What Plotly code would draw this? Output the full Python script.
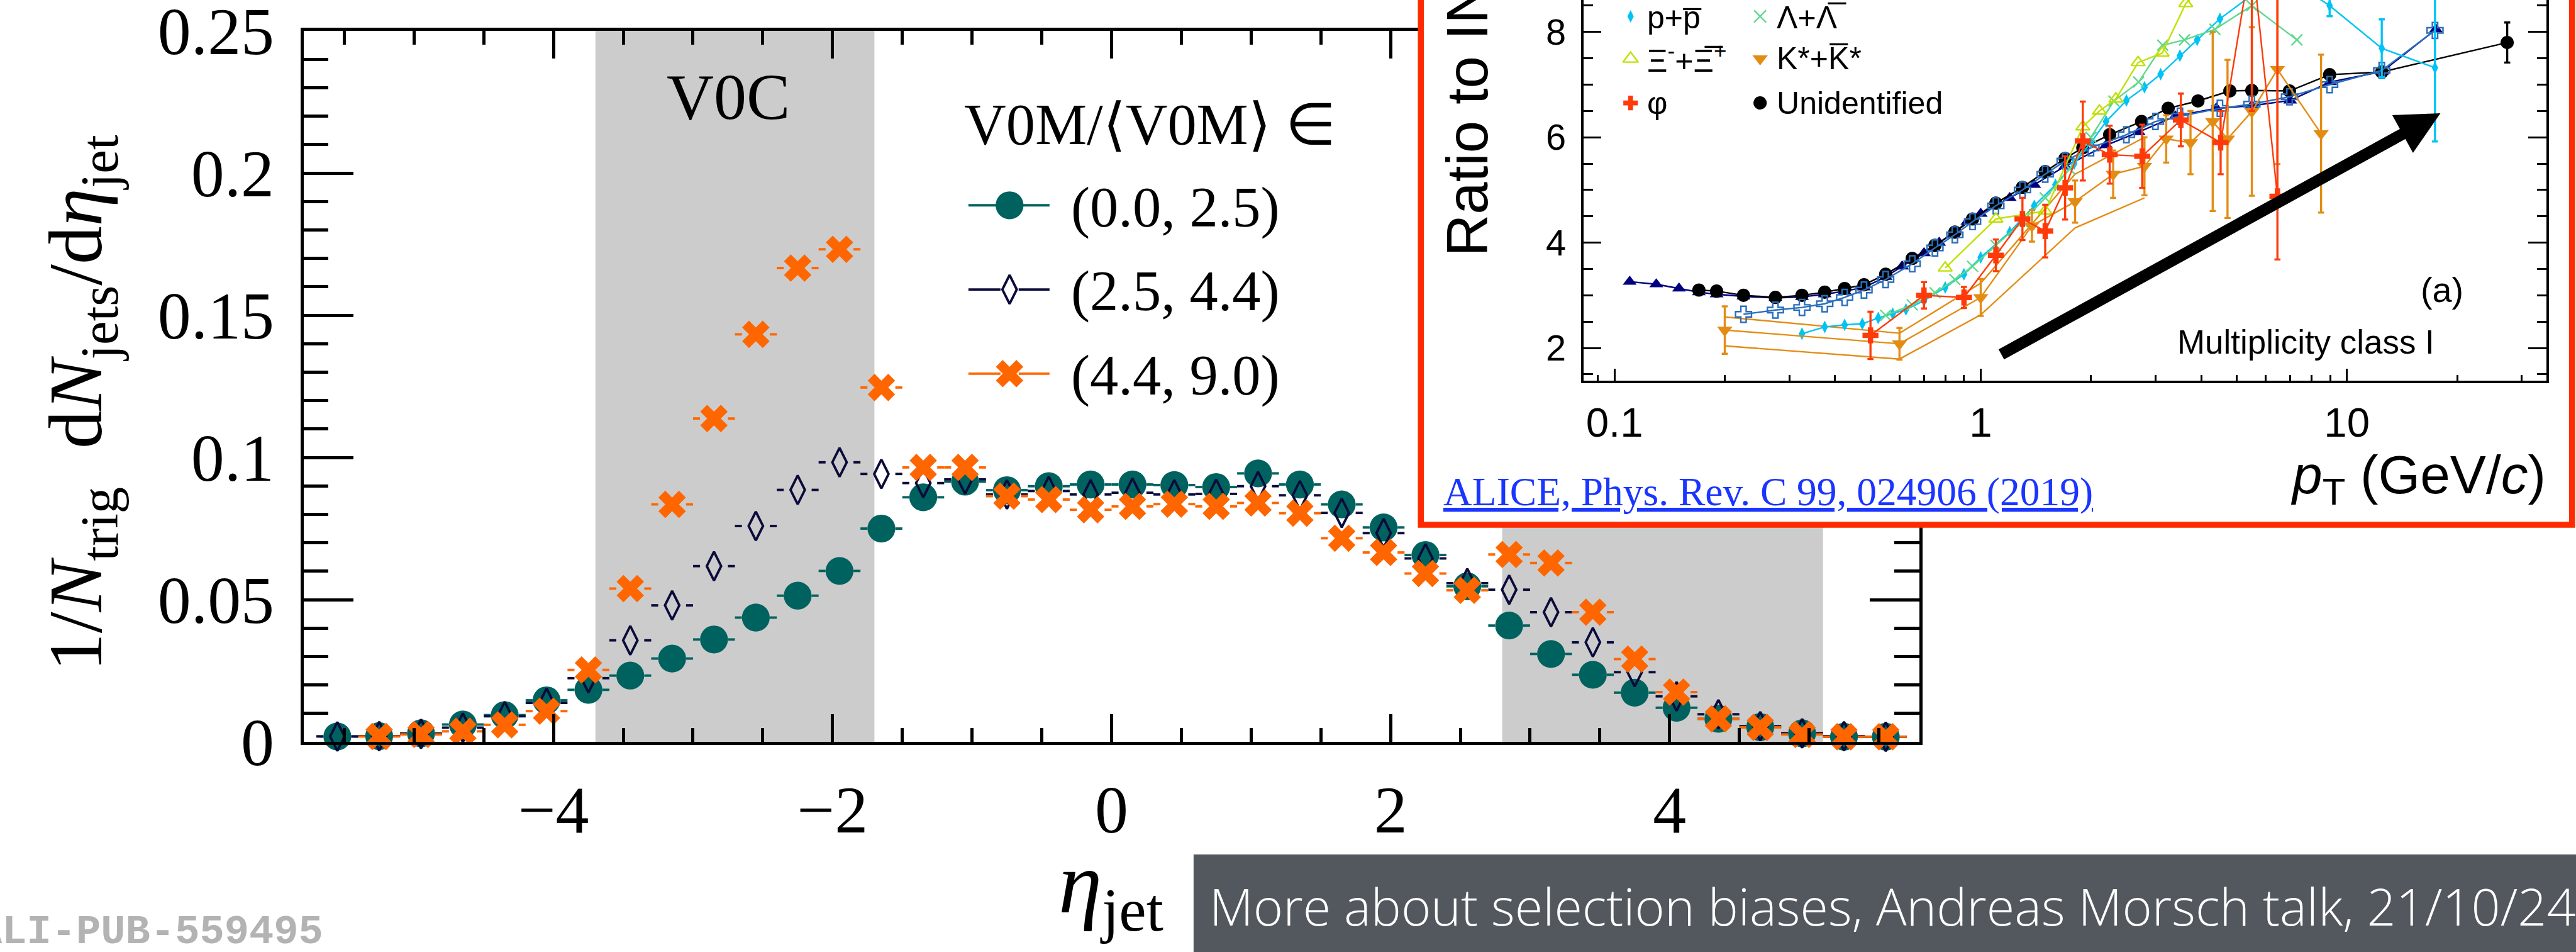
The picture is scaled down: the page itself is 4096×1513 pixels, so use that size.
import plotly.graph_objects as go

# ---------------- canvas / scaling ----------------
W, H = 4096, 1513
RW, RH = 4256, 1572          # reference pixel frame
S = W / RW                   # 0.962


def fs(v):
    return v * S


def px(x):
    return x / RW


def py(y):
    return 1 - y / RH


SERIF = "Liberation Serif"
SANS = "Liberation Sans"

# ---------------- main chart data ----------------
eta = [-5.55, -5.25, -4.95, -4.65, -4.35, -4.05, -3.75, -3.45, -3.15, -2.85,
       -2.55, -2.25, -1.95, -1.65, -1.35, -1.05, -0.75, -0.45, -0.15, 0.15,
       0.45, 0.75, 1.05, 1.35, 1.65, 1.95, 2.25, 2.55, 2.85, 3.15,
       3.45, 3.75, 4.05, 4.35, 4.65, 4.95, 5.25, 5.55]

low_mult = [0.0019, 0.0020, 0.0030, 0.0061, 0.0094, 0.0146, 0.0183, 0.0233, 0.0293, 0.0360,
            0.0437, 0.0514, 0.0601, 0.0750, 0.0860, 0.0915, 0.0885, 0.0899, 0.0905, 0.0905,
            0.0903, 0.0896, 0.0944, 0.0905, 0.0835, 0.0754, 0.0657, 0.0547, 0.0409, 0.0309,
            0.0236, 0.0173, 0.0120, 0.0081, 0.0052, 0.0030, 0.0018, 0.0018]

mid_mult = [0.0019, 0.0020, 0.0028, 0.0050, 0.0090, 0.0137, 0.0224, 0.0357, 0.0480, 0.0618,
            0.0759, 0.0886, 0.0983, 0.0942, 0.0910, 0.0923, 0.0870, 0.0882, 0.0870, 0.0876,
            0.0870, 0.0872, 0.0899, 0.0867, 0.0805, 0.0734, 0.0645, 0.0558, 0.0535, 0.0456,
            0.0350, 0.0245, 0.0160, 0.0097, 0.0055, 0.0030, 0.0020, 0.0018]

high_mult = [None, 0.0019, 0.0026, 0.0037, 0.0060, 0.0108, 0.0253, 0.0539, 0.0835, 0.1137,
             0.1433, 0.1666, 0.1732, 0.1246, 0.0965, 0.0965, 0.0864, 0.0852, 0.0816, 0.0828,
             0.0836, 0.0828, 0.0840, 0.0804, 0.0716, 0.0666, 0.0592, 0.0533, 0.0659, 0.0629,
             0.0456, 0.0291, 0.0175, 0.0081, 0.0051, 0.0026, 0.0018, 0.0018]

bin_half = 0.15
legend_labels = ["(0.0, 2.5)", "(2.5, 4.4)", "(4.4, 9.0)"]
v0c_range = [-3.7, -1.7]
v0a_range = [2.8, 5.1]
main_yticks = [0, 0.05, 0.1, 0.15, 0.2, 0.25]
main_yticktext = ["0", "0.05", "0.1", "0.15", "0.2", "0.25"]

TEAL = "#00625f"
NAVY = "#0b0b3b"
ORANGE = "#ff6600"

# ---------------- inset data (ratio to INEL>0 vs pT) ----------------
pi_pt = [0.11, 0.13, 0.15, 0.17, 0.19, 0.225, 0.275, 0.325, 0.375, 0.425, 0.48, 0.55, 0.61, 0.7,
         0.77, 0.85, 0.92, 1.0, 1.2, 1.4, 1.7, 2.2, 2.7, 3.4, 4.4, 5.5, 7.0, 9.0, 12.5, 17.5]
pi_val = [3.26, 3.21, 3.13, 3.06, 3.02, 2.98, 2.95, 2.97, 3.02, 3.08, 3.15, 3.35, 3.55, 3.8,
          4.0, 4.2, 4.4, 4.55, 4.85, 5.1, 5.45, 5.85, 6.1, 6.4, 6.55, 6.6, 6.7, 7.05, 7.25, 8.05]

unid_pt = [0.17, 0.19, 0.225, 0.275, 0.325, 0.375, 0.425, 0.48, 0.55, 0.65, 0.75, 0.85, 0.95, 1.1,
           1.3, 1.5, 1.7, 1.9, 2.25, 2.75, 3.25, 3.92, 4.79, 5.5, 6.97, 8.97, 12.45, 27.4]
unid_val = [3.1, 3.08, 3.0, 2.96, 3.0, 3.06, 3.13, 3.2, 3.4, 3.7, 3.95, 4.2, 4.45, 4.75,
            5.05, 5.35, 5.6, 5.8, 6.05, 6.3, 6.55, 6.69, 6.88, 6.89, 6.88, 7.19, 7.24, 7.8]
unid_err = [0, 0, 0, 0, 0, 0, 0, 0, 0, 0, 0, 0, 0, 0,
            0, 0, 0, 0, 0, 0, 0, 0, 0, 0, 0, 0, 0.05, 0.38]

k_pt = [0.225, 0.275, 0.325, 0.375, 0.425, 0.48, 0.55, 0.65, 0.75, 0.85, 0.95, 1.1, 1.3, 1.5,
        1.7, 2.0, 2.5, 3.0, 3.5, 4.5, 5.5, 6.97, 8.97, 12.45, 17.4]
k_val = [2.64, 2.72, 2.77, 2.84, 2.96, 3.1, 3.3, 3.6, 3.9, 4.15, 4.4, 4.7, 5.0, 5.3,
         5.55, 5.8, 6.05, 6.3, 6.4, 6.55, 6.63, 6.77, 7.0, 7.27, 8.03]

p_pt = [0.325, 0.375, 0.425, 0.475, 0.525, 0.575, 0.625, 0.7, 0.8, 0.9, 1.0, 1.2, 1.4, 1.6,
        1.8, 2.0, 2.2, 2.5, 2.8, 3.1, 3.5, 3.9, 4.5, 5.5, 7.0, 8.97, 12.45, 17.4]
p_val = [2.27, 2.40, 2.44, 2.46, 2.57, 2.65, 2.73, 2.9, 3.15, 3.4, 3.72, 4.2, 4.7, 5.1,
         5.5, 5.9, 6.3, 6.7, 6.95, 7.2, 7.55, 7.85, 8.25, 8.7, 9.0, 8.5, 7.69, 7.32]
p_err = [0, 0, 0, 0, 0, 0, 0, 0, 0, 0, 0, 0, 0, 0,
         0, 0, 0, 0, 0, 0, 0, 0, 0, 0, 0, 0.2, 0.55, 1.4]

lam_pt = [0.55, 0.65, 0.75, 0.85, 0.95, 1.1, 1.3, 1.5, 1.75, 2.0, 2.31, 2.7, 3.14, 3.6, 4.36, 5.5, 7.3]
lam_val = [2.62, 2.82, 3.05, 3.3, 3.55, 3.95, 4.4, 4.85, 5.4, 6.0, 6.69, 7.05, 7.75, 7.85, 8.05, 8.5, 7.85]

xi_pt = [0.8, 1.1, 1.5, 1.9, 2.11, 2.34, 2.69, 3.13, 3.63, 4.5]
xi_val = [3.52, 4.45, 4.6, 6.2, 6.5, 6.73, 7.42, 7.6, 8.54, 9.2]

kstar_pt = [0.2, 0.6, 1.0, 1.38, 1.81, 2.3, 2.8, 3.21, 3.74, 4.3, 4.72, 5.5, 6.46, 8.5]
kstar_val = [2.34, 2.08, 2.96, 4.32, 4.78, 5.3, 5.45, 5.97, 5.9, 6.3, 5.97, 6.49, 7.29, 6.07]
kstar_err = [0.45, 0.3, 0.35, 0.3, 0.4, 0.45, 0.55, 0.45, 0.6, 1.7, 1.5, 1.6, 1.8, 1.5]
kstar_sys_pt = [0.2, 0.6, 1.0, 1.81, 2.8]
kstar_sys_hi = [2.59, 2.28, 3.23, 5.3, 6.0]
kstar_sys_lo = [2.04, 1.79, 2.63, 4.28, 4.85]

phi_pt = [0.5, 0.7, 0.9, 1.1, 1.3, 1.5, 1.7, 1.9, 2.25, 2.76, 3.52, 4.52, 5.5, 6.46]
phi_val = [2.24, 3.0, 2.96, 3.76, 4.45, 4.22, 5.04, 5.93, 5.67, 5.64, 6.33, 5.9, 9.5, 4.88]
phi_errp = [0.45, 0.25, 0.2, 0.3, 0.4, 0.5, 0.6, 0.75, 0.55, 0.6, 0.5, 0.6, 3.0, 4.0]
phi_errm = [0.45, 0.25, 0.2, 0.3, 0.4, 0.5, 0.6, 0.75, 0.55, 0.6, 0.5, 0.6, 3.0, 1.2]

inset_xticks = [0.1, 1, 10]
inset_xticktext = ["0.1", "1", "10"]
inset_xminor = [0.09, 0.2, 0.3, 0.4, 0.5, 0.6, 0.7, 0.8, 0.9, 2, 3, 4, 5, 6, 7, 8, 9, 20, 30]
inset_yticks = [2, 4, 6, 8]

C_PI = "#000080"
C_K = "#2a6ebb"
C_P = "#00c3f5"
C_LAM = "#5fd98c"
C_XI = "#c0e000"
C_KST = "#e38c14"
C_PHI = "#ff3a0a"

fig = go.Figure()

# ---------------- main chart traces (xy) ----------------
main_series = [
    (low_mult, TEAL, dict(symbol="circle", size=fs(46), color=TEAL)),
    (mid_mult, NAVY, dict(symbol="diamond-tall-open", size=fs(34), color=NAVY,
                          line=dict(color=NAVY, width=fs(4)))),
    (high_mult, ORANGE, dict(symbol="x", size=fs(40), color=ORANGE, line=dict(width=0))),
]
for ys, col, mk in main_series:
    sx, sy = [], []
    for x, y in zip(eta, ys):
        if y is None:
            continue
        sx += [x - bin_half, x - 0.1, None, x + 0.1, x + bin_half, None]
        sy += [y, y, None, y, y, None]
    fig.add_trace(go.Scatter(x=sx, y=sy, mode="lines", line=dict(color=col, width=fs(4)),
                             xaxis="x", yaxis="y", hoverinfo="skip", showlegend=False,
                             cliponaxis=False))
    fig.add_trace(go.Scatter(x=eta, y=ys, mode="markers", marker=mk, xaxis="x", yaxis="y",
                             showlegend=False, cliponaxis=False))

# ---------------- overlay (x2y2, reference pixel frame) ----------------
# white inset box hiding the main frame
fig.add_trace(go.Scatter(x=[2347, 4250, 4250, 2347, 2347], y=[-40, -40, 866, 866, -40],
                         mode="lines", fill="toself", fillcolor="white",
                         line=dict(width=0, color="white"), xaxis="x2", yaxis="y2",
                         hoverinfo="skip", showlegend=False))

# main legend symbols
leg_rows = [339, 478, 617]
for (ys, col, mk), ry in zip(main_series, leg_rows):
    fig.add_trace(go.Scatter(x=[1600, 1653, None, 1683, 1734], y=[ry, ry, None, ry, ry],
                             mode="lines", line=dict(color=col, width=fs(4)),
                             xaxis="x2", yaxis="y2", hoverinfo="skip", showlegend=False))
    fig.add_trace(go.Scatter(x=[1668], y=[ry], mode="markers", marker=mk,
                             xaxis="x2", yaxis="y2", hoverinfo="skip", showlegend=False))

# inset legend symbols
inset_leg = [
    (2694, 27, dict(symbol="diamond-tall", size=fs(15), color=C_P)),
    (2908, 27, dict(symbol="x-thin-open", size=fs(20), color=C_LAM, line=dict(color=C_LAM, width=fs(2.5)))),
    (2694, 97, dict(symbol="triangle-up-open", size=fs(22), color=C_XI, line=dict(color=C_XI, width=fs(2.5)))),
    (2908, 97, dict(symbol="triangle-down", size=fs(22), color=C_KST)),
    (2694, 170, dict(symbol="cross", size=fs(20), color=C_PHI)),
    (2908, 170, dict(symbol="circle", size=fs(22), color="black")),
]
for lx, ly, mk in inset_leg:
    fig.add_trace(go.Scatter(x=[lx], y=[ly], mode="markers", marker=mk, xaxis="x2", yaxis="y2",
                             hoverinfo="skip", showlegend=False))

# ---------------- inset chart (x3y3) ----------------
for band in (kstar_sys_hi, kstar_sys_lo):
    fig.add_trace(go.Scatter(x=kstar_sys_pt, y=band, mode="lines",
                             line=dict(color=C_KST, width=fs(2.5)),
                             xaxis="x3", yaxis="y3", hoverinfo="skip", showlegend=False))

inset_series = [
    (pi_pt, pi_val, None, None, C_PI, dict(symbol="triangle-up", size=fs(20), color=C_PI)),
    (unid_pt, unid_val, unid_err, None, "black", dict(symbol="circle", size=fs(22), color="black")),
    (k_pt, k_val, None, None, C_K, dict(symbol="cross-open", size=fs(22), color=C_K,
                                         line=dict(color=C_K, width=fs(2.5)))),
    (p_pt, p_val, p_err, None, C_P, dict(symbol="diamond-tall", size=fs(15), color=C_P)),
    (lam_pt, lam_val, None, None, C_LAM, dict(symbol="x-thin-open", size=fs(18), color=C_LAM,
                                               line=dict(color=C_LAM, width=fs(2.5)))),
    (xi_pt, xi_val, None, None, C_XI, dict(symbol="triangle-up-open", size=fs(20), color=C_XI,
                                            line=dict(color=C_XI, width=fs(2.5)))),
    (kstar_pt, kstar_val, kstar_err, None, C_KST, dict(symbol="triangle-down", size=fs(22), color=C_KST)),
    (phi_pt, phi_val, phi_errp, phi_errm, C_PHI, dict(symbol="cross", size=fs(22), color=C_PHI)),
]
for xs, ys, ep, em, col, mk in inset_series:
    err = None
    if ep is not None:
        err = dict(type="data", array=ep, arrayminus=em if em is not None else ep,
                   color=col, thickness=fs(3.5), width=fs(5))
    fig.add_trace(go.Scatter(x=xs, y=ys, mode="lines+markers", marker=mk,
                             line=dict(color=col, width=fs(2.5)), error_y=err,
                             xaxis="x3", yaxis="y3", hoverinfo="skip", showlegend=False))

# ---------------- shapes ----------------
shapes = []
for rng in (v0c_range, v0a_range):
    shapes.append(dict(type="rect", xref="x", yref="y", x0=rng[0], x1=rng[1], y0=0, y1=0.25,
                       fillcolor="#cccccc", line=dict(width=0), layer="below"))
# red inset frame
shapes.append(dict(type="rect", xref="paper", yref="paper", x0=px(2347.5), x1=px(4249.5),
                   y0=py(866.5), y1=py(-30), line=dict(color="#ff2a00", width=fs(10)),
                   fillcolor="rgba(0,0,0,0)", layer="above"))
# footer box
shapes.append(dict(type="rect", xref="paper", yref="paper", x0=px(1972), x1=1.0,
                   y0=0.0, y1=py(1411), fillcolor="#53575e", line=dict(width=0),
                   layer="above"))


# ---------------- annotations ----------------
def ann(text, x, y, size, family, color="black", xanchor="left", yanchor="middle", angle=0):
    return dict(text=text, x=px(x), y=py(y), xref="paper", yref="paper", showarrow=False,
                font=dict(size=fs(size), family=family, color=color),
                xanchor=xanchor, yanchor=yanchor, textangle=angle)


annotations = [
    ann("V0C", 1203, 160, 108, SERIF, xanchor="center"),
    ann("V0M/⟨V0M⟩ ∈", 1591, 206, 96, SERIF),
    ann(legend_labels[0], 1767, 342, 94, SERIF),
    ann(legend_labels[1], 1767, 481, 94, SERIF),
    ann(legend_labels[2], 1767, 620, 94, SERIF),
    ann("1/<i>N</i><sub>trig</sub>\u2002d<i>N</i><sub>jets</sub>/d<i>η</i><sub>jet</sub>",
        134, 1110, 126, SERIF, xanchor="center", yanchor="bottom", angle=-90),
    ann("<i>η</i><sub>jet</sub>", 1836, 1468, 145, SERIF, xanchor="center"),
    ann("<b>ALI-PUB-559495</b>", 536, 1540, 68, "Liberation Mono", color="#b3b3b3",
        xanchor="right"),
    dict(text="More about selection biases, Andreas Morsch talk, 21/10/24", x=px(1996),
         y=py(1496), xref="paper", yref="paper", showarrow=False, xanchor="left",
         yanchor="middle", font=dict(size=fs(84), family="Open Sans", color="white",
                                     weight=300)),
    # inset texts
    ann("Ratio to INEL&gt;0", 2424, 425, 96, SANS, xanchor="center", yanchor="bottom", angle=-90),
    ann("p+p\u0305", 2719, 29, 52, SANS),
    ann("Λ+Λ\u0305", 2933, 29, 52, SANS),
    ann("Ξ<sup>-</sup>+Ξ\u0305<sup>+</sup>", 2719, 97, 52, SANS),
    ann("K*+K\u0305*", 2933, 97, 52, SANS),
    ann("φ", 2719, 170, 52, SANS),
    ann("Unidentified", 2933, 170, 52, SANS),
    ann("(a)", 4035, 478, 58, SANS, xanchor="center"),
    ann("Multiplicity class I", 3810, 565, 55, SANS, xanchor="center"),
    ann("<i>p</i><sub>T</sub> (GeV/<i>c</i>)", 4208, 790, 89, SANS, xanchor="right"),
    ann("<u>ALICE, Phys. Rev. C 99, 024906 (2019)</u>", 2383, 812, 66, SERIF, color="#1a35ff"),
    # arrow
    dict(text="", x=4032, y=187, ax=3305, ay=586, xref="x2", yref="y2", axref="x2", ayref="y2",
         showarrow=True, arrowhead=2, arrowsize=0.75, arrowwidth=fs(19), arrowcolor="black"),
]

tickfont_main = dict(family=SERIF, size=fs(110), color="black")

fig.update_layout(
    width=W, height=H, autosize=False,
    margin=dict(l=0, r=0, t=0, b=0, pad=0, autoexpand=False),
    paper_bgcolor="white", plot_bgcolor="rgba(0,0,0,0)", showlegend=False,
    shapes=shapes, annotations=annotations,
    xaxis=dict(domain=[px(502), px(3171)], range=[-5.79, 5.79], anchor="y", automargin=False,
               showline=True, linecolor="black", linewidth=fs(5), mirror="allticks",
               ticks="inside", ticklen=fs(46), tickwidth=fs(5), tickcolor="black",
               tick0=0, dtick=2, showgrid=False, zeroline=False, tickfont=tickfont_main,
               ticklabelstandoff=12, ticklabeloverflow="allow",
               minor=dict(dtick=0.5, tick0=0, ticks="inside", ticklen=fs(23), tickwidth=fs(5),
                          tickcolor="black", showgrid=False)),
    yaxis=dict(domain=[py(1225), py(51)], range=[0, 0.2500001], anchor="x", automargin=False,
               showline=True, linecolor="black", linewidth=fs(5), mirror="allticks",
               ticks="inside", ticklen=fs(82), tickwidth=fs(5), tickcolor="black",
               tickmode="array", tickvals=main_yticks, ticktext=main_yticktext,
               showgrid=False, zeroline=False, tickfont=tickfont_main,
               ticklabelstandoff=21, ticklabeloverflow="allow",
               minor=dict(dtick=0.01, tick0=0, ticks="inside", ticklen=fs(41), tickwidth=fs(5),
                          tickcolor="black", showgrid=False)),
    xaxis2=dict(domain=[0, 1], range=[0, RW], visible=False, anchor="y2", fixedrange=True,
                automargin=False),
    yaxis2=dict(domain=[0, 1], range=[RH, 0], visible=False, anchor="x2", fixedrange=True,
                automargin=False),
    xaxis3=dict(domain=[px(2616), px(4207)], type="log", range=[-1.0851, 1.5446], anchor="y3",
                automargin=False,
                showline=True, linecolor="black", linewidth=fs(4), mirror=False,
                ticks="inside", ticklen=fs(20), tickwidth=fs(3.5), tickcolor="black",
                tickmode="array", tickvals=inset_xticks, ticktext=inset_xticktext,
                showgrid=False, zeroline=False,
                tickfont=dict(family=SANS, size=fs(68), color="black"), ticklabelstandoff=6,
                minor=dict(tickmode="array", tickvals=inset_xminor, ticks="inside",
                           ticklen=fs(10), tickwidth=fs(3), tickcolor="black", showgrid=False)),
    yaxis3=dict(domain=[py(629), 1], range=[1.375, 8.607], anchor="x3", automargin=False,
                showline=True, linecolor="black", linewidth=fs(4), mirror="ticks",
                ticks="inside", ticklen=fs(30), tickwidth=fs(3.5), tickcolor="black",
                tickmode="array", tickvals=inset_yticks, showgrid=False, zeroline=False,
                tickfont=dict(family=SANS, size=fs(60), color="black"), ticklabelstandoff=12,
                minor=dict(dtick=0.5, tick0=0, ticks="inside", ticklen=fs(16), tickwidth=fs(3),
                           tickcolor="black", showgrid=False)),
)

fig.write_html("out.html")
